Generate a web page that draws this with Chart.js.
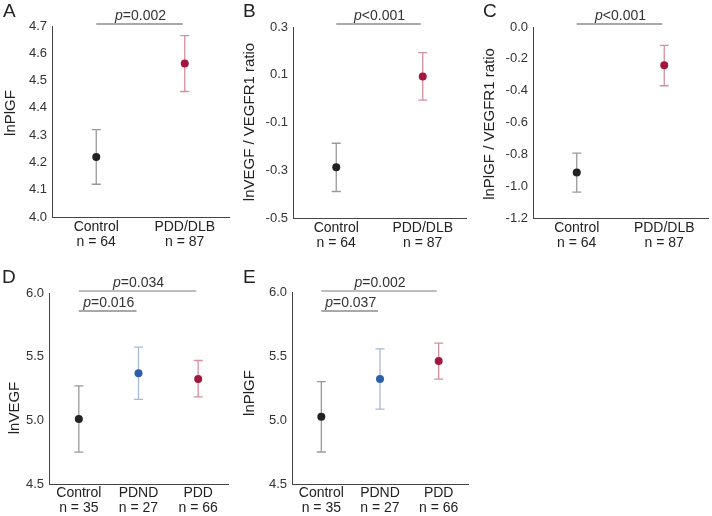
<!DOCTYPE html>
<html><head><meta charset="utf-8">
<script src="https://cdn.jsdelivr.net/npm/chart.js@4"></script>
<style>
body{margin:0;background:#fff;width:712px;height:516px;position:relative;overflow:hidden}
canvas{position:absolute}
</style></head>
<body>
<canvas id="cA" width="235" height="258" style="left:0;top:0"></canvas>
<canvas id="cB" width="235" height="258" style="left:235px;top:0"></canvas>
<canvas id="cC" width="237" height="258" style="left:475px;top:0"></canvas>
<canvas id="cD" width="235" height="270" style="left:0;top:246px"></canvas>
<canvas id="cE" width="237" height="270" style="left:235px;top:246px"></canvas>
<script>
// ---- data ----
const cats2 = [['Control','n = 64'],['PDD/DLB','n = 87']];
const cats3 = [['Control','n = 35'],['PDND','n = 27'],['PDD','n = 66']];

const meanA = [4.22, 4.563];
const lowA  = [4.12, 4.46];
const highA = [4.32, 4.665];

const meanB = [-0.287, 0.093];
const lowB  = [-0.389, -0.006];
const highB = [-0.187, 0.193];

const meanC = [-0.914, -0.24];
const lowC  = [-1.037, -0.369];
const highC = [-0.793, -0.115];

const meanD = [5.01, 5.37, 5.325];
const lowD  = [4.75, 5.165, 5.185];
const highD = [5.27, 5.575, 5.47];

const meanE = [5.025, 5.32, 5.46];
const lowE  = [4.75, 5.085, 5.32];
const highE = [5.30, 5.555, 5.60];

const ticksA = {min: 4.0, max: 4.7, step: 0.1};
const ticksB = {min: -0.5, max: 0.3, step: 0.2};
const ticksC = {min: -1.2, max: 0.0, step: 0.2};
const ticksD = {min: 4.5, max: 6.0, step: 0.5};
const ticksE = {min: 4.5, max: 6.0, step: 0.5};

const pA = ['p=0.002'];
const pB = ['p<0.001'];
const pC = ['p<0.001'];
const pD = ['p=0.034','p=0.016'];
const pE = ['p=0.002','p=0.037'];

// ---- styles ----
const FONT = '"Liberation Sans", Arial, Helvetica, sans-serif';
const ptCol2 = ['#222222','#a3173f'];
const erCol2 = ['#9a9a9a','#d3909f'];
const ptCol3 = ['#222222','#2d5fa9','#a3173f'];
const erCol3 = ['#9a9a9a','#a9b9d9','#d3909f'];

function drawP(ctx, text, cx, base){
  ctx.font = 'italic 14px ' + FONT;
  const w1 = ctx.measureText(text[0]).width;
  ctx.font = '14px ' + FONT;
  const rest = text.slice(1);
  const w2 = ctx.measureText(rest).width;
  const x0 = cx - (w1 + w2)/2;
  ctx.fillStyle = '#333';
  ctx.textAlign = 'left'; ctx.textBaseline = 'alphabetic';
  ctx.font = 'italic 14px ' + FONT;
  ctx.fillText(text[0], x0, base);
  ctx.font = '14px ' + FONT;
  ctx.fillText(rest, x0 + w1, base);
}

function makeChart(id, labels, means, lows, highs, ptCols, erCols, tk, pad, xh, xpad, deco){
  const errPlugin = {
    id: 'err_' + id,
    beforeDatasetsDraw(chart){
      const {ctx} = chart, xs = chart.scales.x, ys = chart.scales.y;
      ctx.save();
      ctx.lineWidth = 1.3;
      lows.forEach((lo, i) => {
        const px = xs.getPixelForValue(i);
        const y1 = ys.getPixelForValue(lo), y2 = ys.getPixelForValue(highs[i]);
        ctx.strokeStyle = erCols[i];
        ctx.beginPath();
        ctx.moveTo(px, y1); ctx.lineTo(px, y2);
        ctx.moveTo(px - 4.5, y1); ctx.lineTo(px + 4.5, y1);
        ctx.moveTo(px - 4.5, y2); ctx.lineTo(px + 4.5, y2);
        ctx.stroke();
      });
      ctx.restore();
    }
  };
  const decoPlugin = {
    id: 'deco_' + id,
    afterDraw(chart){
      const {ctx} = chart, xs = chart.scales.x, top = chart.chartArea.top;
      ctx.save();
      ctx.fillStyle = '#222';
      ctx.font = '19px ' + FONT;
      ctx.textAlign = 'left'; ctx.textBaseline = 'alphabetic';
      ctx.fillText(deco.letter, deco.lx, deco.ly);
      ctx.save();
      ctx.translate(deco.tx, deco.ty);
      ctx.rotate(-Math.PI/2);
      ctx.font = '15px ' + FONT;
      ctx.fillStyle = '#222';
      ctx.textAlign = 'center'; ctx.textBaseline = 'middle';
      ctx.fillText(deco.title, 0, 0);
      ctx.restore();
      deco.sig.forEach(s => {
        const x1 = xs.getPixelForValue(s.a), x2 = xs.getPixelForValue(s.b);
        const y = top + s.dy;
        ctx.strokeStyle = s.color; ctx.lineWidth = s.w;
        ctx.beginPath(); ctx.moveTo(x1, y); ctx.lineTo(x2 - 2, y); ctx.stroke();
        drawP(ctx, s.text, (x1 + x2)/2, y - 4);
      });
      ctx.restore();
    }
  };
  return new Chart(document.getElementById(id), {
    type: 'line',
    data: {
      labels: labels,
      datasets: [{
        data: means,
        showLine: false,
        pointRadius: 4,
        pointHoverRadius: 4,
        pointBorderWidth: 0,
        pointBackgroundColor: ptCols,
        pointBorderColor: ptCols
      }]
    },
    options: {
      responsive: false,
      animation: false,
      events: [],
      layout: {padding: pad},
      plugins: {legend: {display: false}, tooltip: {enabled: false}},
      scales: {
        x: {
          type: 'category',
          offset: true,
          grid: {display: false, drawTicks: false},
          border: {display: true, color: '#444', width: 1},
          ticks: {color: '#222', padding: xpad, font: {family: FONT, size: 14, lineHeight: 1.1}, maxRotation: 0, autoSkip: false},
          afterFit(s){ s.height = xh; }
        },
        y: {
          min: tk.min, max: tk.max,
          grid: {display: false, drawTicks: false},
          border: {display: true, color: '#444', width: 1},
          ticks: {
            stepSize: tk.step, color: '#333', padding: 5,
            font: {family: FONT, size: 13},
            callback: v => Math.abs(v) < 1e-9 ? '0.0' : Number(v).toFixed(1)
          },
          afterFit(s){ s.width = 40; }
        }
      }
    },
    plugins: [errPlugin, decoPlugin]
  });
}

const sigGray = '#a8a8a8';
makeChart('cA', cats2, meanA, lowA, highA, ptCol2, erCol2, ticksA,
  {left: 12, right: 6, top: 26, bottom: 5}, 36, 2,
  {letter: 'A', lx: 3, ly: 17, title: 'lnPlGF', tx: 11, ty: 113,
   sig: [{a: 0, b: 1, dy: -2, text: pA[0], color: sigGray, w: 1.8}]});
makeChart('cB', cats2, meanB, lowB, highB, ptCol2, erCol2, ticksB,
  {left: 18, right: 3, top: 27, bottom: 4}, 36, 2,
  {letter: 'B', lx: 8, ly: 17, title: 'lnVEGF / VEGFR1 ratio', tx: 15, ty: 122,
   sig: [{a: 0, b: 1, dy: -3, text: pB[0], color: sigGray, w: 1.8}]});
makeChart('cC', cats2, meanC, lowC, highC, ptCol2, erCol2, ticksC,
  {left: 18, right: 1, top: 27, bottom: 4}, 36, 2,
  {letter: 'C', lx: 8, ly: 17, title: 'lnPlGF / VEGFR1 ratio', tx: 15, ty: 124,
   sig: [{a: 0, b: 1, dy: -3, text: pC[0], color: sigGray, w: 1.8}]});
makeChart('cD', cats3, meanD, lowD, highD, ptCol3, erCol3, ticksD,
  {left: 9, right: 7, top: 47, bottom: 0}, 32, 1,
  {letter: 'D', lx: 2, ly: 37, title: 'lnVEGF', tx: 15, ty: 162,
   sig: [{a: 0, b: 2, dy: -2, text: pD[0], color: '#7a7a7a', w: 1.2},
         {a: 0, b: 1, dy: 18, text: pD[1], color: sigGray, w: 2}]});
makeChart('cE', cats3, meanE, lowE, highE, ptCol3, erCol3, ticksE,
  {left: 17, right: 2, top: 46, bottom: 0}, 32, 1,
  {letter: 'E', lx: 8, ly: 37, title: 'lnPlGF', tx: 15, ty: 147,
   sig: [{a: 0, b: 2, dy: -1, text: pE[0], color: '#7a7a7a', w: 1.2},
         {a: 0, b: 1, dy: 19, text: pE[1], color: sigGray, w: 2}]});
</script>
</body></html>
